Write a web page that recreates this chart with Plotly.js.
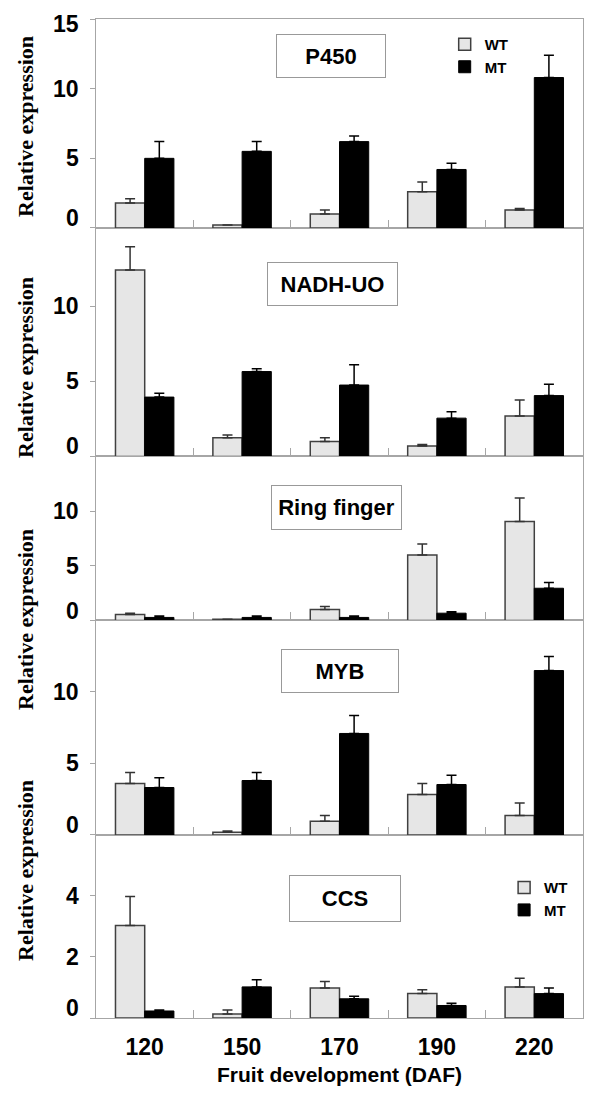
<!DOCTYPE html>
<html>
<head>
<meta charset="utf-8">
<script src="https://cdn.plot.ly/plotly-3.0.1.min.js"></script>
<style>
html,body{margin:0;padding:0;background:#fff;}
#chart{width:600px;height:1102px;}
</style>
</head>
<body>
<div id="chart"></div>
<script>
// ---- data ----
const categories = ['120', '150', '170', '190', '220'];
const seriesNames = ['WT', 'MT'];
const geneNames = ['P450', 'NADH-UO', 'Ring finger', 'MYB', 'CCS'];

const p450WT = [1.8, 0.22, 1.0, 2.6, 1.3];
const p450WTerr = [0.3, 0.0, 0.3, 0.7, 0.1];
const p450MT = [5.0, 5.5, 6.2, 4.2, 10.8];
const p450MTerr = [1.2, 0.7, 0.4, 0.45, 1.6];

const nadhWT = [12.4, 1.25, 1.0, 0.7, 2.7];
const nadhWTerr = [1.55, 0.18, 0.25, 0.1, 1.05];
const nadhMT = [3.95, 5.65, 4.75, 2.55, 4.05];
const nadhMTerr = [0.25, 0.18, 1.35, 0.42, 0.75];

const ringWT = [0.55, 0.12, 1.0, 6.0, 9.05];
const ringWTerr = [0.12, 0.0, 0.28, 1.0, 2.15];
const ringMT = [0.28, 0.28, 0.28, 0.67, 2.95];
const ringMTerr = [0.12, 0.12, 0.12, 0.12, 0.52];

const mybWT = [3.6, 0.19, 0.96, 2.83, 1.36];
const mybWTerr = [0.77, 0.09, 0.4, 0.77, 0.88];
const mybMT = [3.32, 3.81, 7.1, 3.53, 11.5];
const mybMTerr = [0.68, 0.56, 1.26, 0.65, 0.98];

const ccsWT = [3.03, 0.13, 0.98, 0.8, 1.02];
const ccsWTerr = [0.95, 0.13, 0.22, 0.13, 0.28];
const ccsMT = [0.23, 1.02, 0.63, 0.41, 0.8];
const ccsMTerr = [0.03, 0.23, 0.08, 0.07, 0.18];

const yTicks = [[0, 5, 10, 15], [0, 5, 10], [0, 5, 10], [0, 5, 10], [0, 2, 4]];
const yRanges = [[0, 15], [0, 15.2], [0, 15], [0, 15], [0, 6]];
const yTitle = 'Relative expression';
const xTitle = 'Fruit development (DAF)';

// ---- styling ----
const SANS = '"Liberation Sans", Arial, Helvetica, sans-serif';
const SERIF = '"Liberation Serif", "Times New Roman", serif';
const frame = '#a6a6a6';
const wtFill = '#e6e6e6';

// panel order top -> bottom ; axis index (5 = top ... 1 = bottom)
const panels = [
  {wt: p450WT, wte: p450WTerr, mt: p450MT, mte: p450MTerr, ax: 5, legend: 'legend'},
  {wt: nadhWT, wte: nadhWTerr, mt: nadhMT, mte: nadhMTerr, ax: 4},
  {wt: ringWT, wte: ringWTerr, mt: ringMT, mte: ringMTerr, ax: 3},
  {wt: mybWT, wte: mybWTerr, mt: mybMT, mte: mybMTerr, ax: 2},
  {wt: ccsWT, wte: ccsWTerr, mt: ccsMT, mte: ccsMTerr, ax: 1, legend: 'legend2'}
];

// domains (paper fraction) top -> bottom
const domains = [[0.7908, 1], [0.5621, 0.7908], [0.3979, 0.5621], [0.1832, 0.3979], [0, 0.1832]];

const zeros = categories.map(() => 0);
const traces = [];
panels.forEach((p, i) => {
  const xa = p.ax === 1 ? 'x' : 'x' + p.ax;
  const ya = p.ax === 1 ? 'y' : 'y' + p.ax;
  const show = !!p.legend;
  traces.push({
    type: 'bar', name: seriesNames[0], x: categories, y: p.wt, xaxis: xa, yaxis: ya,
    marker: {color: wtFill, line: {color: '#404040', width: 1.5}},
    error_y: {type: 'data', symmetric: false, array: p.wte, arrayminus: zeros, color: '#333333', thickness: 1.5, width: 5},
    showlegend: show, legend: p.legend || 'legend'
  });
  traces.push({
    type: 'bar', name: seriesNames[1], x: categories, y: p.mt, xaxis: xa, yaxis: ya,
    marker: {color: '#000000', line: {color: '#000000', width: 1}},
    error_y: {type: 'data', symmetric: false, array: p.mte, arrayminus: zeros, color: '#000000', thickness: 1.5, width: 5},
    showlegend: show, legend: p.legend || 'legend'
  });
});

const legendFont = {family: SANS, size: 15, color: '#000', weight: 'bold'};
const layout = {
  width: 600, height: 1102,
  margin: {l: 96, r: 17, t: 19, b: 84},
  paper_bgcolor: '#ffffff', plot_bgcolor: '#ffffff',
  barmode: 'group', bargap: 0.4, bargroupgap: 0,
  showlegend: true,
  legend: {x: 0.716, y: 0.991, xanchor: 'left', yanchor: 'top', bgcolor: 'rgba(0,0,0,0)',
           font: legendFont, traceorder: 'normal', itemwidth: 30},
  legend2: {x: 0.838, y: 0.147, xanchor: 'left', yanchor: 'top', bgcolor: 'rgba(0,0,0,0)',
            font: legendFont, traceorder: 'normal', itemwidth: 30},
  annotations: [],
  font: {family: SANS, color: '#000'}
};

const tickFont = {family: SANS, size: 23, color: '#000', weight: 'bold'};
panels.forEach((p, i) => {
  const xk = p.ax === 1 ? 'xaxis' : 'xaxis' + p.ax;
  const yk = p.ax === 1 ? 'yaxis' : 'yaxis' + p.ax;
  const ya = p.ax === 1 ? 'y' : 'y' + p.ax;
  layout[xk] = {
    type: 'category', anchor: ya, domain: [0, 1],
    showline: true, mirror: true, linecolor: frame, linewidth: 1,
    ticks: 'inside', tickson: 'boundaries', ticklen: 8, tickcolor: frame, tickwidth: 1,
    showgrid: false, zeroline: false, fixedrange: true,
    showticklabels: p.ax === 1,
    tickfont: tickFont,
    ticklabelstandoff: 8
  };
  if (p.ax !== 1) layout[xk].matches = 'x';
  else layout[xk].title = {text: xTitle, font: {family: SANS, size: 21, color: '#000', weight: 'bold'}, standoff: 8};
  layout[yk] = {
    domain: domains[i], anchor: p.ax === 1 ? 'x' : 'x' + p.ax,
    range: yRanges[i], tickvals: yTicks[i],
    showline: true, mirror: true, linecolor: frame, linewidth: 1,
    ticks: 'outside', ticklen: 5, tickcolor: frame, tickwidth: 1,
    showgrid: false, zeroline: false, fixedrange: true,
    showticklabels: false
  };
  // tick labels, placed on the axis scale; the "0" label sits a little above the baseline as in the reference
  const yref = p.ax === 1 ? 'y' : 'y' + p.ax;
  yTicks[i].forEach(v => {
    layout.annotations.push({
      xref: 'paper', yref: yref, x: 0, y: v, xanchor: 'right', yanchor: 'middle',
      xshift: -15, yshift: v === 0 ? 10 : (v === 15 ? -5 : 0),
      showarrow: false, text: String(v), font: tickFont
    });
  });
});

// gene label boxes (centre x, centre y in pixels -> paper)
const W = 487, H = 999, L = 96, T = 19;
const boxes = [
  {t: geneNames[0], cx: 331, cy: 56, w: 108, h: 42},
  {t: geneNames[1], cx: 332.5, cy: 284, w: 129, h: 42},
  {t: geneNames[2], cx: 336, cy: 508, w: 129, h: 43},
  {t: geneNames[3], cx: 340, cy: 671, w: 116, h: 42},
  {t: geneNames[4], cx: 345, cy: 898, w: 110, h: 45}
];
boxes.forEach(b => {
  layout.annotations.push({
    xref: 'paper', yref: 'paper', x: (b.cx - L) / W, y: 1 - (b.cy - T) / H,
    xanchor: 'center', yanchor: 'middle', showarrow: false, text: b.t,
    width: b.w - 2, height: b.h - 2, bordercolor: '#999999', borderwidth: 1, bgcolor: '#ffffff',
    font: {family: SANS, size: 22, color: '#000', weight: 'bold'}
  });
});

// y axis titles (four, as in the reference)
[127, 368, 620, 871].forEach(cy => {
  layout.annotations.push({
    xref: 'paper', yref: 'paper', x: (25 - L) / W, y: 1 - (cy - T) / H,
    xanchor: 'center', yanchor: 'middle', showarrow: false, textangle: -90, text: yTitle,
    font: {family: SERIF, size: 22, color: '#000', weight: 'bold'}
  });
});

Plotly.newPlot('chart', traces, layout, {displayModeBar: false, staticPlot: true});
</script>
</body>
</html>
